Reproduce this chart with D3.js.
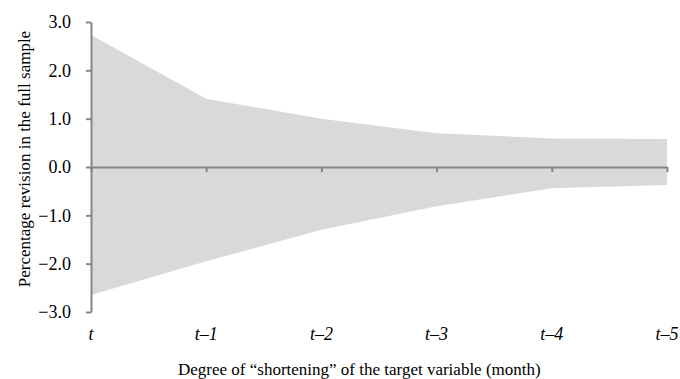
<!DOCTYPE html>
<html>
<head>
	<meta charset="utf-8">
	<script src="https://d3js.org/d3.v7.min.js"></script>
	<style>
		body { margin: 0; background: #fff; }
		text { font-family: "Liberation Serif", "Times New Roman", serif; fill: #000; }
	</style>
</head>
<body>
<svg id="chart" width="680" height="379"></svg>
<script>

	// data
	var lags = ["t", "t\u20131", "t\u20132", "t\u20133", "t\u20134", "t\u20135"];
	var upper = [2.73, 1.41, 1.0, 0.70, 0.59, 0.58];
	var lower = [-2.65, -1.95, -1.30, -0.81, -0.44, -0.37];
	var yTicks = [-3, -2, -1, 0, 1, 2, 3];

	var svg = d3.select("#chart");

	var x = d3.scalePoint().domain(lags).range([91, 667]);
	var y = d3.scaleLinear().domain([-3, 3]).range([312, 22]);

	var band = lags.map(function(d, i) { return {lag: d, hi: upper[i], lo: lower[i]}; });

	var area = d3.area()
		.x(function(d) { return x(d.lag); })
		.y0(function(d) { return y(d.lo); })
		.y1(function(d) { return y(d.hi); });

	svg.append("path")
		.datum(band)
		.attr("d", area)
		.style("fill", "#d9d9d9");

	// y axis
	var yAxis = svg.append("g")
		.attr("transform", "translate(91,0)")
		.call(d3.axisLeft(y).tickValues(yTicks).tickSize(5).tickSizeOuter(0)
			.tickFormat(function(d) { return d3.format(".1f")(d).replace("-", "\u2212"); }));
	yAxis.select(".domain").attr("stroke", "#868686").attr("stroke-width", 2);
	yAxis.selectAll(".tick line").attr("stroke", "#868686").attr("stroke-width", 2);
	yAxis.selectAll(".tick text")
		.attr("x", -20)
		.style("font-size", "18px")
		.style("font-family", "Liberation Serif");

	// x axis along zero line
	var xAxis = svg.append("g")
		.attr("transform", "translate(0," + y(0) + ")")
		.call(d3.axisBottom(x).tickSize(5).tickSizeOuter(0).tickFormat(""));
	xAxis.select(".domain").attr("stroke", "#868686").attr("stroke-width", 2);
	xAxis.selectAll(".tick line").attr("stroke", "#868686").attr("stroke-width", 2);

	// category labels at bottom
	svg.append("g").selectAll("text")
		.data(lags)
		.enter()
		.append("text")
		.attr("x", function(d) { return x(d); })
		.attr("y", 340)
		.attr("text-anchor", "middle")
		.style("font-size", "18px")
		.style("font-style", "italic")
		.text(function(d) { return d; });

	// axis titles
	svg.append("text")
		.attr("x", 178)
		.attr("y", 375)
		.style("font-size", "17px")
		.text("Degree of \u201cshortening\u201d of the target variable (month)");

	svg.append("text")
		.attr("transform", "translate(30,159) rotate(-90)")
		.attr("text-anchor", "middle")
		.style("font-size", "17px")
		.text("Percentage revision in the full sample");

</script>
</body>
</html>
